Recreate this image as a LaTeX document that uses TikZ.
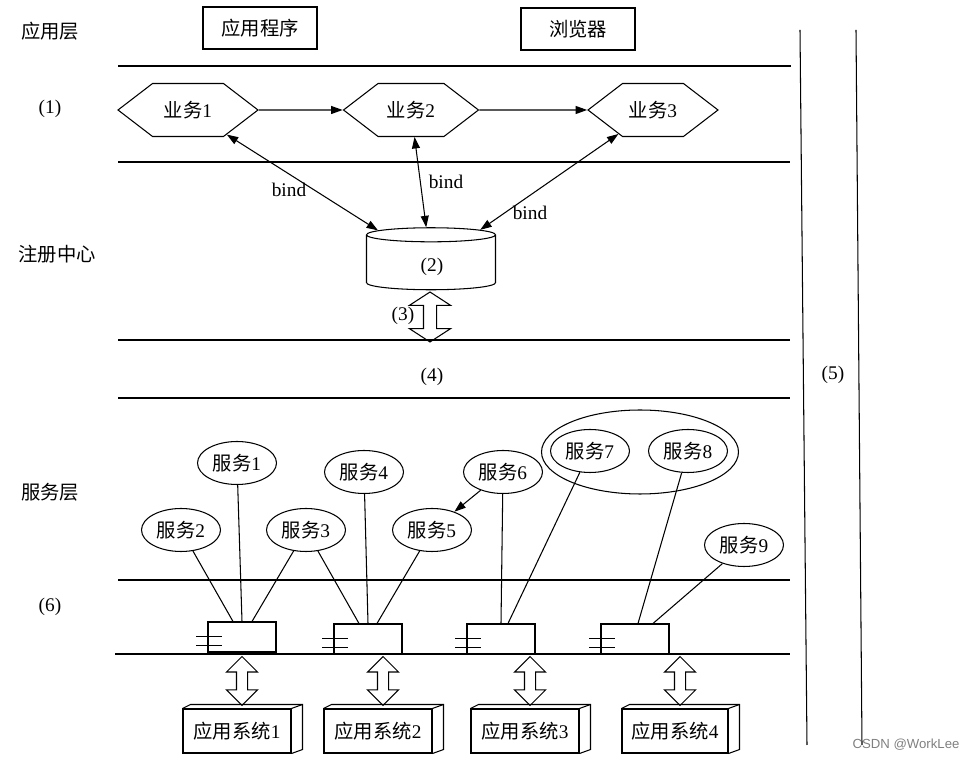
\documentclass[tikz,border=0pt]{standalone}
\usepackage{fontspec}
\setmainfont{Liberation Serif}
\newfontfamily\cjk{Noto Sans CJK SC}
\newfontfamily\marca{Liberation Sans}
\usetikzlibrary{shapes.geometric,shapes.symbols,shapes.arrows,arrows.meta}
\newcommand{\zh}[1]{{\cjk #1}}

\begin{document}
\begin{tikzpicture}[
    % 1 unidade = 1 pixel da figura original
    x=0.02cm, y=-0.02cm,
    line width=0.6pt,
    % Estilo padrão dos nós
    every node/.style={font=\fontsize{11}{13}\selectfont},
    % Caixas da camada de aplicação
    caixa/.style={draw, minimum width=2.28cm, minimum height=0.84cm},
    % Negócios (hexágonos)
    negocio/.style={signal, signal to=west and east, signal pointer angle=75,
      draw, minimum width=2.8cm, minimum height=1.06cm, inner sep=0pt},
    % Serviços (elipses)
    servico/.style={ellipse, draw, minimum width=1.58cm, minimum height=0.86cm, inner sep=0pt},
    % Componentes e sistemas
    componente/.style={draw, minimum width=1.36cm, minimum height=0.6cm},
    sistema/.style={draw, minimum width=2.16cm, minimum height=0.88cm},
    % Setas
    seta/.style={-{Triangle[length=6.5pt,width=4.5pt]}},
    ligacao/.style={{Triangle[length=6.5pt,width=4.5pt]}-{Triangle[length=6.5pt,width=4.5pt]}},
    vazada/.style={double arrow, draw, rotate=90, inner xsep=0pt, inner ysep=0.1cm,
      double arrow head extend=0.2cm, double arrow tip angle=90, minimum height=0.98cm}
  ]

  \useasboundingbox (0,0) rectangle (971,759);

  % Rótulos à esquerda
  \node (camApl) at (50,31) {\zh{应用层}};
  \node (r1) at (50,109) {(1)};
  \node (camReg) at (57,254) {\zh{注册中心}};
  \node (camServ) at (50,492) {\zh{服务层}};
  \node (r6) at (50,607) {(6)};

  % Camada de aplicação
  \node[caixa] (app) at (260,28) {\zh{应用程序}};
  \node[caixa] (nav) at (578,29) {\zh{浏览器}};

  % Linhas horizontais
  \draw (118,66) -- (791,66);
  \draw (118,162) -- (790,162);
  \draw (118,340) -- (790,340);
  \draw (118,398) -- (790,398);
  \draw (118,580) -- (790,580);
  \draw (115,654) -- (790,654);

  % Linhas verticais e (5)
  \draw (800,30) -- (807,745);
  \draw (856,30) -- (862,745);
  \node (r5) at (833,375) {(5)};

  % Negócios
  \node[negocio] (b1) at (188,110) {\zh{业务}1};
  \node[negocio, minimum width=2.7cm] (b2) at (411,110) {\zh{业务}2};
  \node[negocio, minimum width=2.6cm] (b3) at (653,110) {\zh{业务}3};
  \draw[seta] (b1) -- (b2);
  \draw[seta] (b2) -- (b3);

  % Centro de registro
  \node[cylinder, shape border rotate=90, draw, aspect=1.2,
    minimum width=2.58cm, minimum height=1.24cm] (reg) at (431,264) {};
  \node (r2) at (432,267) {(2)};
  \draw[ligacao] (b1) -- (reg);
  \draw[ligacao] (b2) -- (reg);
  \draw[ligacao] (b3) -- (reg);
  \node (bind1) at (289,190) {bind};
  \node (bind2) at (446,182) {bind};
  \node (bind3) at (530,213) {bind};

  % (3) e (4)
  \node[vazada, inner ysep=0.12cm, double arrow head extend=0.28cm,
    double arrow tip angle=114, minimum height=1cm] (d3) at (430,317) {};
  \node (r3) at (403,316) {(3)};
  \node (r4) at (432,377) {(4)};

  % Serviços
  \node[servico] (sv1) at (237,463) {\zh{服务}1};
  \node[servico] (sv2) at (181,530) {\zh{服务}2};
  \node[servico] (sv3) at (306,530) {\zh{服务}3};
  \node[servico] (sv4) at (364,472) {\zh{服务}4};
  \node[servico] (sv5) at (432,530) {\zh{服务}5};
  \node[servico] (sv6) at (503,472) {\zh{服务}6};
  \node[servico] (sv7) at (590,451) {\zh{服务}7};
  \node[servico] (sv8) at (688,451) {\zh{服务}8};
  \node[servico] (sv9) at (744,545) {\zh{服务}9};
  \node[ellipse, draw, minimum width=3.94cm, minimum height=1.68cm] (grupo) at (640,452) {};
  \draw[seta] (sv6) -- (sv5);

  % Componentes
  \node[componente] (c1) at (242,637) {};
  \node[componente] (c2) at (368,639) {};
  \node[componente] (c3) at (501,639) {};
  \node[componente] (c4) at (635,639) {};
  \draw ([shift={(-11,-16)}]c1.south west) -- ++(26,0);
  \draw ([shift={(-11,-7)}]c1.south west) -- ++(26,0);
  \draw ([shift={(-11,-16)}]c2.south west) -- ++(26,0);
  \draw ([shift={(-11,-7)}]c2.south west) -- ++(26,0);
  \draw ([shift={(-11,-16)}]c3.south west) -- ++(26,0);
  \draw ([shift={(-11,-7)}]c3.south west) -- ++(26,0);
  \draw ([shift={(-11,-16)}]c4.south west) -- ++(26,0);
  \draw ([shift={(-11,-7)}]c4.south west) -- ++(26,0);

  % Ligações serviço -> componente
  \draw (sv2) -- ([shift={(-9,0)}]c1.north);
  \draw (sv1) -- (c1.north);
  \draw (sv3) -- ([shift={(10,0)}]c1.north);
  \draw (sv3) -- ([shift={(-9,0)}]c2.north);
  \draw (sv4) -- (c2.north);
  \draw (sv5) -- ([shift={(9,0)}]c2.north);
  \draw (sv6) -- (c3.north);
  \draw (sv7) -- ([shift={(7,0)}]c3.north);
  \draw (sv8) -- ([shift={(3,0)}]c4.north);
  \draw (sv9) -- ([shift={(18,0)}]c4.north);

  % Sistemas de aplicação
  \node[sistema] (s1) at (237,731) {\zh{应用系统}1};
  \node[sistema] (s2) at (378,731) {\zh{应用系统}2};
  \node[sistema] (s3) at (525,731) {\zh{应用系统}3};
  \node[sistema, minimum width=2.12cm] (s4) at (675,731) {\zh{应用系统}4};
  \draw (s1.north west) -- ++(8,-4) -| ([shift={(11,-4)}]s1.south east) -- (s1.south east);
  \draw (s1.north east) -- ++(11,-4);
  \draw (s2.north west) -- ++(8,-4) -| ([shift={(11,-4)}]s2.south east) -- (s2.south east);
  \draw (s2.north east) -- ++(11,-4);
  \draw (s3.north west) -- ++(8,-4) -| ([shift={(11,-4)}]s3.south east) -- (s3.south east);
  \draw (s3.north east) -- ++(11,-4);
  \draw (s4.north west) -- ++(8,-4) -| ([shift={(11,-4)}]s4.south east) -- (s4.south east);
  \draw (s4.north east) -- ++(11,-4);

  % Setas duplas componente <-> sistema
  \node[vazada] (d1) at (242,681) {};
  \node[vazada] (d2) at (383,681) {};
  \node[vazada] (d3b) at (530,681) {};
  \node[vazada] (d4) at (680,681) {};

  % Marca d'água
  \node[font=\marca\fontsize{7.5}{9}\selectfont, text=gray] (wm) at (906,745) {CSDN @WorkLee};

\end{tikzpicture}
\end{document}
